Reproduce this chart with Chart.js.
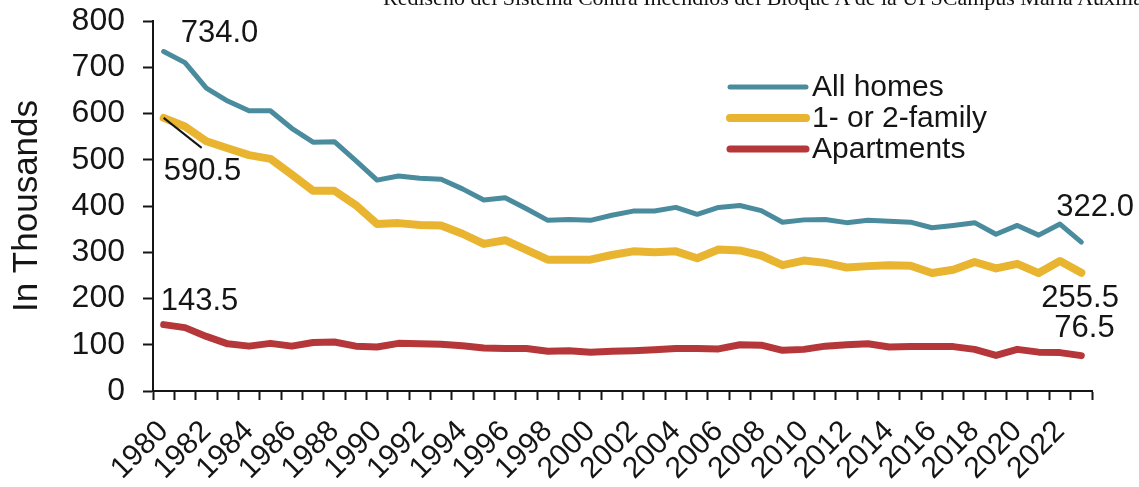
<!DOCTYPE html>
<html>
<head>
<meta charset="utf-8">
<title>Home fires, 1980–2023</title>
<script src="https://cdn.jsdelivr.net/npm/chart.js@4.4.1/dist/chart.umd.min.js"></script>
<style>
  html, body { margin: 0; padding: 0; background: #fff; }
  #wrap { position: relative; width: 1139px; height: 487px; overflow: hidden; }
  #chart { position: absolute; left: 0; top: 0; }
  #doc-header {
    position: absolute; left: 383px; top: -13px;
    font-family: "Liberation Serif", "Times New Roman", serif;
    font-size: 22px; line-height: 22px; color: #111; white-space: nowrap;
  }
</style>
</head>
<body>
<div id="wrap">
  <canvas id="chart" width="1139" height="487"></canvas>
  <div id="doc-header">Rediseño del Sistema Contra Incendios del Bloque A de la UPSCampus María Auxiliadora</div>
</div>
<script>
// Years on the category axis
const years = ['1980','1981','1982','1983','1984','1985','1986','1987','1988','1989',
               '1990','1991','1992','1993','1994','1995','1996','1997','1998','1999',
               '2000','2001','2002','2003','2004','2005','2006','2007','2008','2009',
               '2010','2011','2012','2013','2014','2015','2016','2017','2018','2019',
               '2020','2021','2022','2023'];

// Years that get a printed tick label
const labeledYears = ['1980','1982','1984','1986','1988','1990','1992','1994','1996','1998',
                      '2000','2002','2004','2006','2008','2010','2012','2014','2016','2018',
                      '2020','2022'];

// Home fires, in thousands
const allHomes = [734.0, 710, 655, 627, 606, 606, 568, 538, 539, 498,
                  456, 465, 460, 458, 437, 413, 418, 394, 369, 371,
                  369, 380, 389, 389, 397, 382, 397, 401, 390, 365,
                  370, 371, 364, 369, 367, 365, 353, 358, 364, 339,
                  358, 337, 361, 322.0];

const oneTwoFamily = [590.5, 572, 540, 525, 510, 502, 468, 433, 433, 402,
                      361, 363, 359, 358, 340, 318, 326, 305, 284, 284,
                      284, 294, 302, 300, 302, 287, 306, 304, 293, 272,
                      282, 277, 267, 270, 272, 271, 255, 262, 279, 265,
                      275, 255, 281, 255.5];

const apartments = [143.5, 137, 118, 102, 97, 103, 97, 105, 106, 97,
                    95, 103, 102, 101, 98, 93, 92, 92, 86, 87,
                    84, 86, 87, 89, 92, 92, 91, 100, 99, 88,
                    90, 97, 100, 102, 95, 96, 96, 96, 90, 77,
                    90, 84, 83, 76.5];

const seriesNames = ['All homes', '1- or 2-family', 'Apartments'];

const SANS = "'Liberation Sans', Arial, Helvetica, sans-serif";
const INK = '#151515';

// Value call-outs: dataset, point index, text offset from the point
const callouts = [
  { ds: 0, idx: 0,  dx: 17,  dy: -18 },
  { ds: 1, idx: 0,  dx: 0,   dy: 54, leader: [38, 30] },
  { ds: 2, idx: 0,  dx: -3,  dy: -23 },
  { ds: 0, idx: 43, dx: -25, dy: -35 },
  { ds: 1, idx: 43, dx: -40, dy: 26 },
  { ds: 2, idx: 43, dx: -27, dy: -27 }
];

const calloutPlugin = {
  id: 'callouts',
  afterDatasetsDraw(chart) {
    const { ctx, scales } = chart;
    ctx.save();
    ctx.font = `31px ${SANS}`;
    ctx.fillStyle = INK;
    ctx.textAlign = 'left';
    ctx.textBaseline = 'middle';
    callouts.forEach(c => {
      const v = chart.data.datasets[c.ds].data[c.idx];
      const px = scales.x.getPixelForValue(c.idx);
      const py = scales.y.getPixelForValue(v);
      if (c.leader) {
        ctx.beginPath();
        ctx.strokeStyle = INK;
        ctx.lineWidth = 2;
        ctx.moveTo(px, py);
        ctx.lineTo(px + c.leader[0], py + c.leader[1]);
        ctx.stroke();
      }
      ctx.fillText(v.toFixed(1), px + c.dx, py + c.dy);
    });
    ctx.restore();
  }
};

// Legend drawn inside the plot area
const insideLegend = {
  id: 'insideLegend',
  afterDraw(chart, args, opts) {
    const { ctx } = chart;
    ctx.save();
    ctx.font = `30px ${SANS}`;
    ctx.textAlign = 'left';
    ctx.textBaseline = 'middle';
    chart.data.datasets.forEach((ds, i) => {
      const y = opts.y + i * opts.rowGap;
      ctx.beginPath();
      ctx.strokeStyle = ds.borderColor;
      ctx.lineWidth = opts.swatchWidth[i];
      ctx.lineCap = 'round';
      ctx.moveTo(opts.x, y);
      ctx.lineTo(opts.x + opts.swatchLength, y);
      ctx.stroke();
      ctx.fillStyle = INK;
      ctx.fillText(ds.label, opts.x + opts.swatchLength + 6, y + 1);
    });
    ctx.restore();
  }
};

new Chart(document.getElementById('chart'), {
  type: 'line',
  data: {
    labels: years,
    datasets: [
      { label: seriesNames[0], data: allHomes,     borderColor: '#4a8c9e', borderWidth: 5 },
      { label: seriesNames[1], data: oneTwoFamily, borderColor: '#e9b530', borderWidth: 8 },
      { label: seriesNames[2], data: apartments,   borderColor: '#b5373a', borderWidth: 7 }
    ]
  },
  options: {
    responsive: false,
    animation: false,
    layout: { padding: { top: 21, right: 47, left: 0, bottom: 0 } },
    elements: {
      point: { radius: 0 },
      line: { tension: 0, borderJoinStyle: 'round', borderCapStyle: 'round', fill: false }
    },
    plugins: {
      legend: { display: false },
      tooltip: { enabled: false },
      insideLegend: { x: 730, y: 87, rowGap: 31, swatchLength: 76, swatchWidth: [5, 8, 7] }
    },
    scales: {
      x: {
        type: 'category',
        offset: true,
        grid: { offset: true, drawOnChartArea: false, drawTicks: true, tickLength: 9, tickWidth: 2, tickColor: INK },
        border: { display: true, color: INK, width: 2 },
        ticks: {
          autoSkip: false, maxRotation: 45, minRotation: 45, padding: 14,
          color: INK, font: { family: SANS, size: 30 },
          callback(value) {
            const y = this.getLabelForValue(value);
            return labeledYears.includes(y) ? y : '';
          }
        },
        afterFit(scale) { scale.height = 96; }
      },
      y: {
        min: 0, max: 800,
        grid: { drawOnChartArea: false, drawTicks: true, tickLength: 10, tickWidth: 2, tickColor: INK },
        border: { display: true, color: INK, width: 2 },
        // single-line labels: a tight line height keeps the plot top from being pushed down
        ticks: { stepSize: 100, padding: 18, color: INK, font: { family: SANS, size: 32, lineHeight: 0.1 } },
        title: { display: true, text: 'In Thousands', color: INK, font: { family: SANS, size: 35 }, padding: { top: 6, bottom: 0 } },
        afterFit(scale) { scale.width = 153; }
      }
    }
  },
  plugins: [calloutPlugin, insideLegend]
});
</script>
</body>
</html>
